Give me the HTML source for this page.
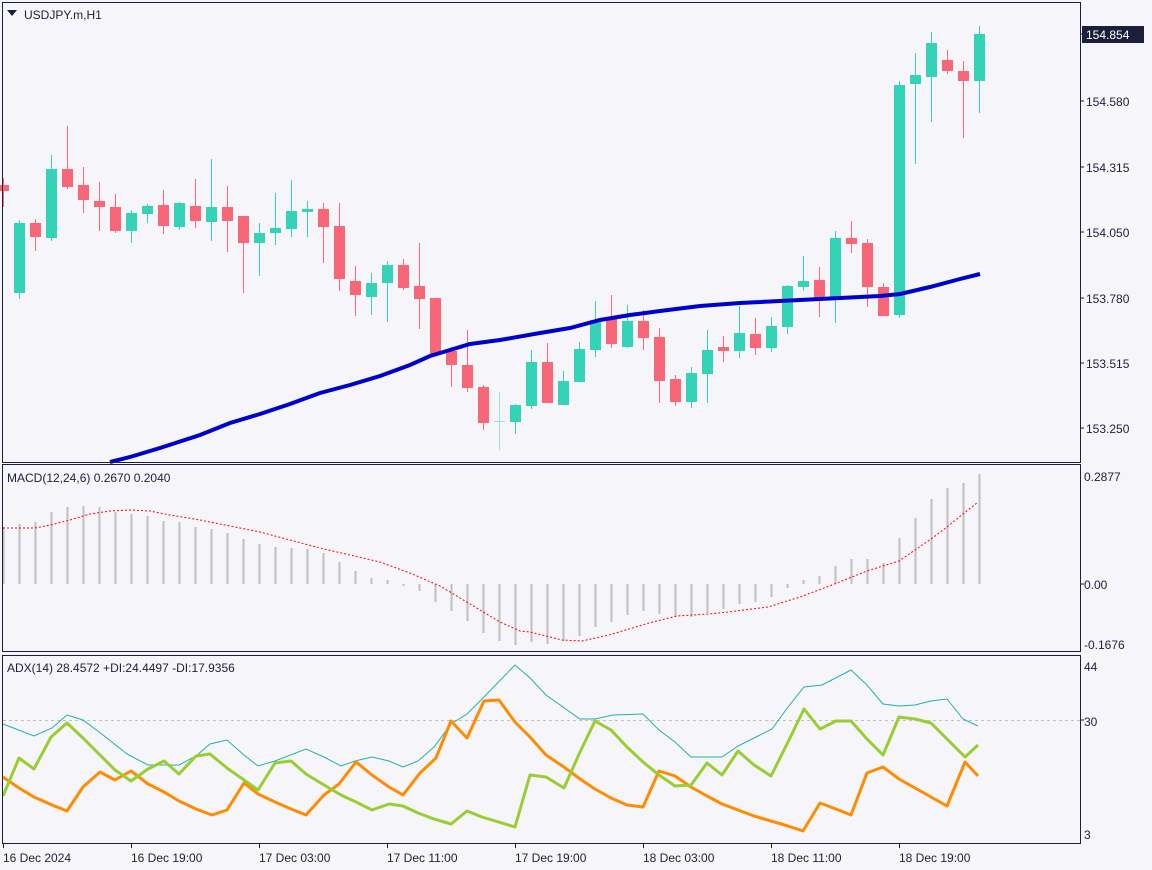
<!DOCTYPE html>
<html><head><meta charset="utf-8"><style>
html,body{margin:0;padding:0;background:#f5f5fa;}
svg{display:block;font-family:"Liberation Sans","DejaVu Sans",sans-serif;}
</style></head><body>
<svg id="c" width="1152" height="870" xmlns="http://www.w3.org/2000/svg">
<rect width="1152" height="870" fill="#f5f5fa"/>
<g id="plot"></g>
<!-- panel borders -->
<g fill="none" stroke="#1c1f3a" stroke-width="1">
<rect x="2.5" y="2.5" width="1078" height="460"/>
<rect x="2.5" y="464.5" width="1078" height="187"/>
<rect x="2.5" y="655.5" width="1078" height="188"/>
</g>
<g font-size="12" fill="#1c1f3a">
<path d="M7 10 L17 10 L12 16 Z" fill="#1c1f3a"/>
<text x="24" y="19">USDJPY.m,H1</text>
<text x="7" y="482">MACD(12,24,6) 0.2670 0.2040</text>
<text x="7" y="672">ADX(14) 28.4572 +DI:24.4497 -DI:17.9356</text>
</g>
<g font-size="12" fill="#1c1f3a" stroke="none">
<rect x="1082" y="26" width="62" height="17" fill="#1c1f3a"/>
<text x="1086" y="39" fill="#ffffff">154.854</text>
<text x="1086" y="106">154.580</text>
<text x="1086" y="172">154.315</text>
<text x="1086" y="237">154.050</text>
<text x="1086" y="303">153.780</text>
<text x="1086" y="368">153.515</text>
<text x="1086" y="433">153.250</text>
<text x="1084" y="481">0.2877</text>
<text x="1084" y="589">0.00</text>
<text x="1084" y="649">-0.1676</text>
<text x="1084" y="671">44</text>
<text x="1084" y="726">30</text>
<text x="1084" y="839">3</text>
<text x="3" y="862">16 Dec 2024</text>
<text x="131" y="862">16 Dec 19:00</text>
<text x="259" y="862">17 Dec 03:00</text>
<text x="387" y="862">17 Dec 11:00</text>
<text x="515" y="862">17 Dec 19:00</text>
<text x="643" y="862">18 Dec 03:00</text>
<text x="771" y="862">18 Dec 11:00</text>
<text x="899" y="862">18 Dec 19:00</text>
</g>
<g stroke="#1c1f3a" stroke-width="1">
<line x1="1080" y1="34" x2="1084" y2="34"/><line x1="1080" y1="101" x2="1084" y2="101"/>
<line x1="1080" y1="167" x2="1084" y2="167"/><line x1="1080" y1="232" x2="1084" y2="232"/>
<line x1="1080" y1="298" x2="1084" y2="298"/><line x1="1080" y1="363" x2="1084" y2="363"/>
<line x1="1080" y1="428" x2="1084" y2="428"/><line x1="1080" y1="584" x2="1084" y2="584"/>
<line x1="1080" y1="720" x2="1084" y2="720"/>
<line x1="3.5" y1="844" x2="3.5" y2="848"/><line x1="131.5" y1="844" x2="131.5" y2="848"/>
<line x1="259.5" y1="844" x2="259.5" y2="848"/><line x1="387.5" y1="844" x2="387.5" y2="848"/>
<line x1="515.5" y1="844" x2="515.5" y2="848"/><line x1="643.5" y1="844" x2="643.5" y2="848"/>
<line x1="771.5" y1="844" x2="771.5" y2="848"/><line x1="899.5" y1="844" x2="899.5" y2="848"/>
</g>
</svg>
<script>
var NS="http://www.w3.org/2000/svg",P=document.getElementById("plot");
function el(t,a){var e=document.createElementNS(NS,t);for(var k in a)e.setAttribute(k,a[k]);P.appendChild(e);return e;}
// candles: [bodyTop, bodyBottom, high, low, color g/r/d]
var C=[[185,191,178,207,'r'],[223,293,220,299,'g'],[223,237,219,251,'r'],[169,238,155,241,'g'],[169,187,126,189,'r'],
[185,200,167,213,'r'],[201,207,182,231,'r'],[207,231,194,233,'r'],[213,231,210,243,'g'],[206,214,204,223,'g'],
[205,226,190,234,'r'],[203,227,202,230,'g'],[206,221,179,228,'r'],[207,222,159,241,'g'],[207,221,186,252,'r'],
[216,243,216,293,'r'],[233,243,223,276,'g'],[228,233,193,245,'g'],[211,229,180,237,'g'],[209,212,201,237,'g'],
[209,227,203,263,'r'],[226,279,203,291,'r'],[281,295,266,316,'r'],[283,297,273,315,'g'],[265,283,261,322,'g'],
[265,288,259,290,'r'],[286,299,243,329,'r'],[298,354,298,354,'r'],[351,365,347,387,'r'],[365,388,330,392,'r'],
[387,423,385,430,'r'],[421,422,392,450,'d'],[405,422,404,434,'g'],[362,406,350,409,'g'],[362,403,343,403,'r'],
[381,405,371,405,'g'],[349,382,342,382,'g'],[320,350,301,357,'g'],[319,344,295,348,'r'],[321,347,305,348,'g'],
[321,338,310,350,'r'],[337,381,328,403,'r'],[379,402,375,406,'r'],[373,402,367,408,'g'],[350,374,330,403,'g'],
[347,351,336,362,'r'],[333,351,306,358,'g'],[334,348,318,355,'r'],[326,348,317,352,'g'],[286,327,285,334,'g'],
[281,287,256,291,'g'],[280,298,267,317,'r'],[238,298,231,323,'g'],[238,244,221,253,'r'],[243,287,239,307,'r'],
[287,316,283,316,'r'],[85,315,81,318,'g'],[75,84,53,164,'g'],[43,77,32,122,'g'],[60,71,50,74,'r'],[71,81,61,138,'r'],[34,81,26,113,'g']];
var col={g:'#34d3b8',r:'#f76778',d:'#9fe3d6'};
C.forEach(function(c,i){var x=3+16*i;var k=col[c[4]];
el('line',{x1:x+.5,x2:x+.5,y1:c[2],y2:c[3],stroke:k,'stroke-width':1});
if(c[4]=='d')el('line',{x1:x-5,x2:x+6,y1:c[0]+.5,y2:c[0]+.5,stroke:k});
else el('rect',{x:x-5,y:c[0],width:11,height:Math.max(1,c[1]-c[0]),fill:k});});
el('polyline',{points:"110,462 130,457 160,448 200,435 230,423 260,414 290,404 320,393 350,385 380,376 410,365 430,356 450,350 470,344 500,340 540,333 570,328 600,320 630,315 660,311 700,306 740,303 780,301 800,300 840,298 880,296 900,294 930,287 960,279 980,274",fill:'none',stroke:'#0000cc','stroke-width':4});
// MACD bars
var M=[527,524,522,512,507,506,507,512,514,516,521,522,527,529,533,539,544,547,548,549,553,562,571,578,580,585,591,602,611,621,633,641,645,642,644,641,636,627,622,615,611,614,617,617,613,609,604,602,597,588,580,576,566,559,559,563,538,518,499,488,483,474];
M.forEach(function(y,i){var x=3.5+16*i;if(i==25)y=586;el('line',{x1:x,x2:x,y1:584,y2:y,stroke:'#c0c0c0','stroke-width':2});});
el('polyline',{points:"3,528 35,528 50,525 70,520 90,514 110,511 130,510 150,511 170,515 200,520 230,526 260,532 290,540 320,548 350,555 380,562 410,573 440,586 460,598 480,610 500,622 520,631 530,632 562,640 582,641 609,635 649,623 677,616 709,614 728,612 768,607 800,597 832,585 867,571 899,561 915,550 931,539 947,527 963,514 978,502",fill:'none',stroke:'#ff0000','stroke-width':1,'stroke-dasharray':'2,2'});
// ADX
el('line',{x1:3,x2:1080,y1:720.5,y2:720.5,stroke:'#c0c0c0','stroke-dasharray':'3,3'});
el('polyline',{points:"3,724 34,736 52,728 67,715 83,720 103,735 127,754 148,765 179,765 196,756 210,744 227,740 244,755 258,766 275,761 306,749 324,757 341,766 355,761 372,757 389,761 403,767 418,761 434,747 451,724 467,714 482,699 515,665 530,678 546,695 580,719 595,719 613,715 643,714 659,730 675,742 691,757 722,757 738,746 756,737 772,729 788,707 804,687 822,685 851,670 867,685 883,704 899,706 915,705 931,701 947,699 963,719 978,726",fill:'none',stroke:'#20b2aa','stroke-width':1});
el('polyline',{points:"3,777 19,788 34,797 52,805 67,811 83,787 100,772 115,780 131,771 148,784 164,792 179,801 196,809 212,815 227,810 244,783 258,794 275,802 291,809 306,815 324,795 339,784 356,762 372,775 389,787 403,795 420,773 436,758 451,721 467,738 484,701 499,700 515,722 530,737 546,755 564,767 580,779 595,789 611,798 627,805 643,807 659,771 675,776 691,787 707,796 722,804 738,810 754,816 771,821 788,826 803,831 820,803 836,809 851,815 867,773 883,767 899,779 915,788 931,797 947,806 965,762 978,776",fill:'none',stroke:'#ff8c00','stroke-width':3,'stroke-linejoin':'round'});
el('polyline',{points:"3,796 19,758 34,769 51,737 67,723 83,738 100,755 115,770 131,781 148,769 164,761 179,774 196,756 210,754 227,768 244,780 258,790 275,763 291,761 306,774 324,785 341,795 356,802 372,810 389,804 403,806 418,813 434,819 451,824 467,811 482,817 515,827 530,775 546,777 564,788 580,752 595,721 611,730 627,747 643,762 659,775 675,786 691,785 707,763 722,775 738,751 754,765 771,776 788,742 804,709 820,729 836,721 851,721 867,739 883,755 899,717 915,719 931,723 947,739 965,757 978,745",fill:'none',stroke:'#9acd32','stroke-width':3,'stroke-linejoin':'round'});
</script>
</body></html>
